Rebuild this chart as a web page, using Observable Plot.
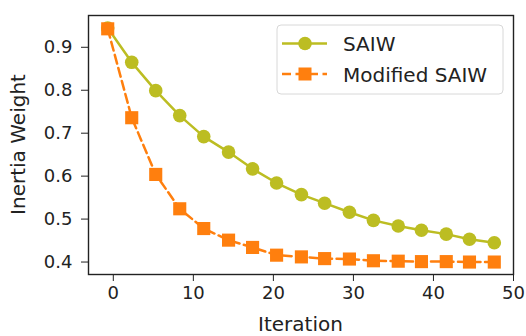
<!DOCTYPE html>
<html>
<head>
<meta charset="utf-8">
<script src="https://cdn.jsdelivr.net/npm/d3@7"></script>
<script src="https://cdn.jsdelivr.net/npm/@observablehq/plot@0.6"></script>
<style>
  html, body { margin: 0; padding: 0; background: #fff; }
  #chart { width: 526px; height: 336px; }
</style>
</head>
<body>
<div id="chart"></div>
<script>
const iterations = [-0.7, 2.3, 5.3, 8.3, 11.3, 14.4, 17.4, 20.4, 23.5, 26.4, 29.5, 32.5, 35.6, 38.5, 41.6, 44.5, 47.6];
const saiw =        [0.945, 0.865, 0.799, 0.741, 0.692, 0.656, 0.617, 0.584, 0.557, 0.537, 0.516, 0.497, 0.484, 0.474, 0.465, 0.453, 0.445];
const modifiedSaiw = [0.943, 0.736, 0.604, 0.524, 0.478, 0.451, 0.434, 0.416, 0.412, 0.408, 0.407, 0.403, 0.402, 0.401, 0.401, 0.400, 0.400];
const seriesNames = ["SAIW", "Modified SAIW"];
const xTicks = [0, 10, 20, 30, 40, 50];
const yTicks = [0.4, 0.5, 0.6, 0.7, 0.8, 0.9];

const colors = {"SAIW": "#bcbd22", "Modified SAIW": "#ff7f0e"};
const saiwData = iterations.map((x, i) => ({x, y: saiw[i]}));
const modData = iterations.map((x, i) => ({x, y: modifiedSaiw[i]}));

const W = 526, H = 336;
const chart = Plot.plot({
  width: W, height: H,
  marginLeft: 88, marginRight: 13, marginTop: 15, marginBottom: 62,
  style: {fontFamily: "DejaVu Sans", fontSize: "18px", color: "#222", background: "#fff"},
  x: {domain: [-3.1, 50], ticks: xTicks, tickSize: 7, tickPadding: 5, label: null},
  y: {domain: [0.371, 0.974], ticks: yTicks, tickFormat: d3.format(".1f"), tickSize: 7, tickPadding: 9, label: null},
  marks: [
    Plot.line(saiwData, {x: "x", y: "y", stroke: colors["SAIW"], strokeWidth: 2.5}),
    Plot.dot(saiwData, {x: "x", y: "y", r: 6.8, fill: colors["SAIW"], stroke: "none"}),
    Plot.line(modData, {x: "x", y: "y", stroke: colors["Modified SAIW"], strokeWidth: 2.5, strokeDasharray: "9,4.5"}),
    Plot.dot(modData, {x: "x", y: "y", symbol: "square", r: 7.4, fill: colors["Modified SAIW"], stroke: "none"}),
    Plot.frame({stroke: "#222", strokeWidth: 1.4})
  ]
});
document.getElementById("chart").appendChild(chart);

const svg = d3.select(chart);
// axis labels
svg.append("text").attr("x", 300.5).attr("y", 331).attr("text-anchor", "middle")
  .attr("font-family", "DejaVu Sans").attr("font-size", 20).attr("fill", "#222").text("Iteration");
svg.append("text").attr("transform", "translate(25,144.5) rotate(-90)").attr("text-anchor", "middle")
  .attr("font-family", "DejaVu Sans").attr("font-size", 20).attr("fill", "#222").text("Inertia Weight");

// legend
const lg = svg.append("g");
lg.append("rect").attr("x", 277).attr("y", 25).attr("width", 226).attr("height", 69)
  .attr("rx", 4).attr("fill", "#fff").attr("fill-opacity", 0.8).attr("stroke", "#d8d8d8").attr("stroke-width", 1);
const rows = [43.5, 74];
seriesNames.forEach((name, i) => {
  const y = rows[i];
  const c = colors[name];
  const ln = lg.append("line").attr("x1", 282).attr("x2", 327).attr("y1", y).attr("y2", y)
    .attr("stroke", c).attr("stroke-width", 2.5);
  if (i === 1) {
    ln.attr("stroke-dasharray", "9,4.5");
    lg.append("rect").attr("x", 298.5).attr("y", y - 6.5).attr("width", 13).attr("height", 13).attr("fill", c);
  } else {
    lg.append("circle").attr("cx", 305).attr("cy", y).attr("r", 6.8).attr("fill", c);
  }
  lg.append("text").attr("x", 343).attr("y", y + 7.5).attr("text-anchor", "start").attr("font-family", "DejaVu Sans")
    .attr("font-size", 20).attr("fill", "#222").text(name);
});
</script>
</body>
</html>
